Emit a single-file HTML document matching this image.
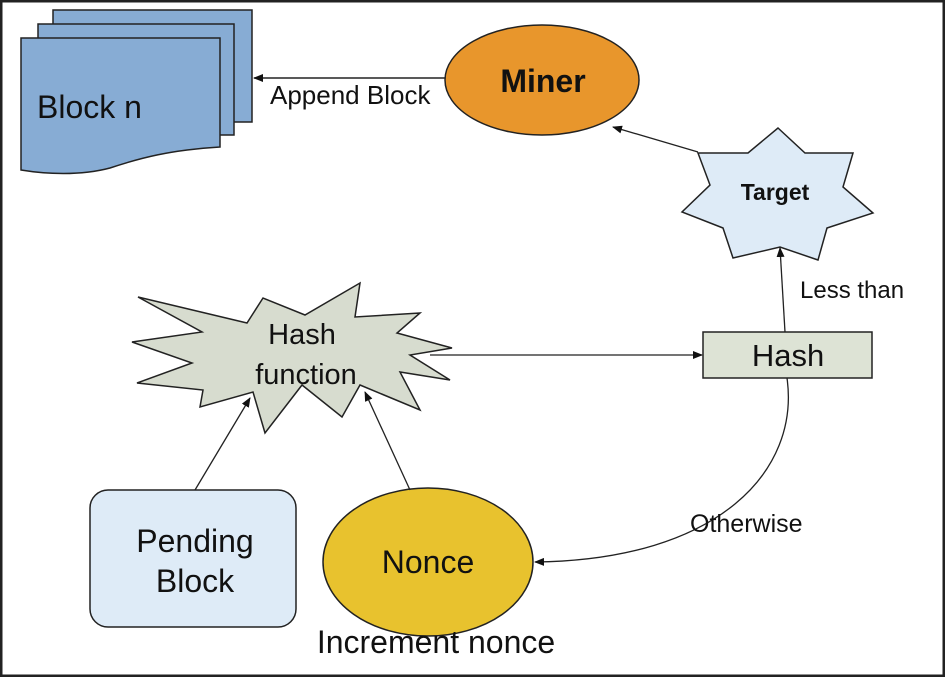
<!DOCTYPE html>
<html><head><style>
body{margin:0;background:#fff}
svg{display:block}
text{font-family:"Liberation Sans",Arial,sans-serif;fill:#111}
</style></head><body>
<svg width="945" height="677" viewBox="0 0 945 677" xmlns="http://www.w3.org/2000/svg">
<defs><marker id="a" markerWidth="10" markerHeight="8" refX="9" refY="4" orient="auto" markerUnits="userSpaceOnUse"><path d="M0,0 L10,4 L0,8 z" fill="#111"/></marker></defs>
<rect x="1" y="1" width="943" height="675" fill="#fff" stroke="#222" stroke-width="3"/>
<rect x="53" y="10" width="199" height="112" fill="#87acd4" stroke="#222" stroke-width="1.5"/>
<rect x="38" y="24" width="196" height="111" fill="#87acd4" stroke="#222" stroke-width="1.5"/>
<path d="M21,38 H220 V147 C170,150 140,158 110,168 C80,176 45,174 21,170 Z" fill="#87acd4" stroke="#222" stroke-width="1.5"/>
<text x="37" y="118" font-size="32">Block n</text>
<ellipse cx="542" cy="80" rx="97" ry="55" fill="#e8962c" stroke="#222" stroke-width="1.5"/>
<text x="543" y="92" font-size="32" font-weight="bold" text-anchor="middle">Miner</text>
<line x1="445" y1="78" x2="254" y2="78" stroke="#222" stroke-width="1.5" marker-end="url(#a)"/>
<text x="270" y="104" font-size="26">Append Block</text>
<polygon points="778,128 805,153 853,153 843,187 873,213 827,228 818,260 780,247 733,258 723,228 682,212 710,185 698,153 748,153" fill="#deebf7" stroke="#222" stroke-width="1.5"/>
<text x="775" y="200" font-size="23" font-weight="bold" text-anchor="middle">Target</text>
<line x1="698" y1="152" x2="613" y2="127" stroke="#222" stroke-width="1.3" marker-end="url(#a)"/>
<rect x="703" y="332" width="169" height="46" fill="#dde3d5" stroke="#222" stroke-width="1.5"/>
<text x="788" y="366" font-size="31" text-anchor="middle">Hash</text>
<line x1="785" y1="332" x2="780" y2="248" stroke="#222" stroke-width="1.3" marker-end="url(#a)"/>
<text x="800" y="298" font-size="24">Less than</text>
<polygon points="138,297 247,323 263,298 305,315 360,283 355,317 420,313 397,333 452,348 410,355 450,380 400,372 420,410 360,385 342,417 302,385 265,433 253,392 200,407 203,390 137,383 192,363 132,342 202,332" fill="#d7dccf" stroke="#222" stroke-width="1.5"/>
<text x="302" y="344" font-size="29" text-anchor="middle">Hash</text>
<text x="306" y="384" font-size="29" text-anchor="middle">function</text>
<line x1="430" y1="355" x2="702" y2="355" stroke="#222" stroke-width="1.3" marker-end="url(#a)"/>
<rect x="90" y="490" width="206" height="137" rx="18" fill="#deebf7" stroke="#222" stroke-width="1.5"/>
<text x="195" y="552" font-size="32" text-anchor="middle">Pending</text>
<text x="195" y="592" font-size="32" text-anchor="middle">Block</text>
<line x1="195" y1="490" x2="250" y2="398" stroke="#222" stroke-width="1.3" marker-end="url(#a)"/>
<ellipse cx="428" cy="562" rx="105" ry="74" fill="#e8c22e" stroke="#222" stroke-width="1.5"/>
<text x="428" y="573" font-size="32" text-anchor="middle">Nonce</text>
<line x1="410" y1="490" x2="365" y2="392" stroke="#222" stroke-width="1.3" marker-end="url(#a)"/>
<text x="436" y="653" font-size="32" text-anchor="middle">Increment nonce</text>
<path d="M787,378 C800,470 720,560 535,562" fill="none" stroke="#222" stroke-width="1.3" marker-end="url(#a)"/>
<text x="690" y="532" font-size="25">Otherwise</text>
</svg>
</body></html>
